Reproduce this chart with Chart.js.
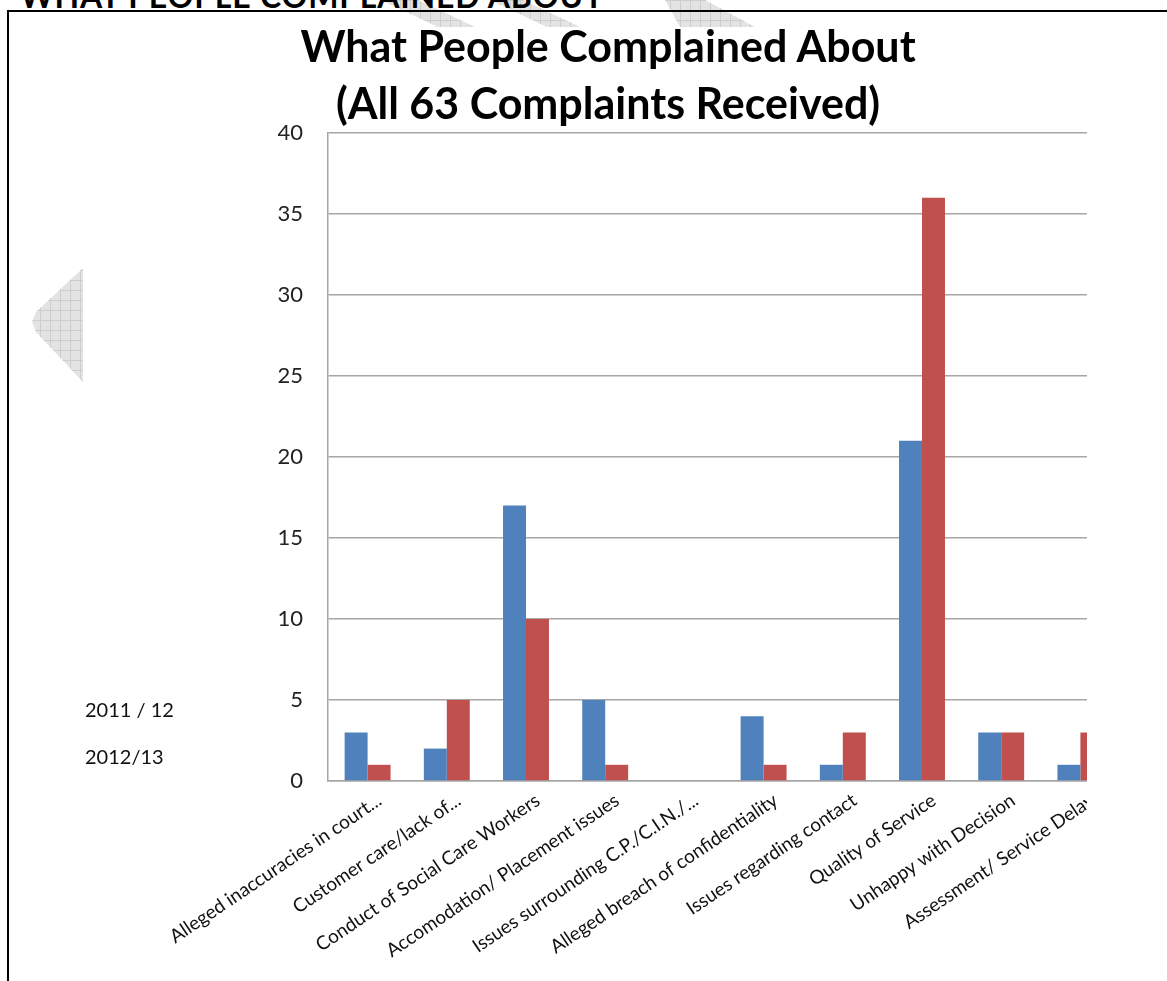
<!DOCTYPE html>
<html>
<head>
<meta charset="utf-8">
<script src="https://cdn.jsdelivr.net/npm/chart.js@4"></script>
<style>
  body { margin: 0; background: #fff; width: 1167px; height: 981px; overflow: hidden; position: relative; font-family: Lato, "Open Sans", sans-serif; }
  .wm { position: absolute; left: 0; top: 0; width: 1167px; height: 400px;
        background-color: #e3e3e3;
        background-image: linear-gradient(#cdcdcd 1px, transparent 1px), linear-gradient(90deg, #cdcdcd 1px, transparent 1px);
        background-size: 10px 10px; }
  #heading { position: absolute; left: 20px; top: -24px; font: bold 32px Lato, sans-serif; color: #000; letter-spacing: 0.8px; white-space: nowrap; }
  #frameTop { position: absolute; left: 7px; top: 10px; width: 1160px; height: 2px; background: #000; }
  #frameLeft { position: absolute; left: 7px; top: 10px; width: 2px; height: 971px; background: #000; }
  #plot { position: absolute; left: 83px; top: 27px; width: 1004px; height: 954px; overflow: hidden; background: #fff; }
  #plot canvas { position: absolute; left: -83px; top: -27px; }
  #title { position: absolute; left: 0; top: 17px; width: 1216px; text-align: center; font: bold 43px Lato, sans-serif; line-height: 57px; color: #000; }
  .legend { position: absolute; left: 85px; font: 20px Lato, sans-serif; color: #111; }
</style>
</head>
<body>
<div class="wm" style="clip-path: polygon(381px 0, 418px 0, 475px 27px, 438px 27px);"></div>
<div class="wm" style="clip-path: polygon(490px 0, 523px 0, 580px 27px, 547px 27px);"></div>
<div class="wm" style="clip-path: polygon(665px 0, 705px 0, 755px 27px, 680px 27px);"></div>
<div class="wm" style="clip-path: polygon(83px 268px, 83px 382px, 36px 332px, 32px 322px, 36px 312px);"></div>
<div id="heading">WHAT PEOPLE COMPLAINED ABOUT</div>
<div id="frameTop"></div>
<div id="frameLeft"></div>
<div id="plot"><canvas id="chart" width="1200" height="981"></canvas></div>
<div id="title">What People Complained About<br>(All 63 Complaints Received)</div>
<div class="legend" style="top: 697px;">2011 / 12</div>
<div class="legend" style="top: 744px;">2012/13</div>

<script>
const categories = [
  "Alleged inaccuracies in court...",
  "Customer care/lack of...",
  "Conduct of Social Care Workers",
  "Accomodation/ Placement issues",
  "Issues surrounding C.P./C.I.N./...",
  "Alleged breach of confidentiality",
  "Issues regarding contact",
  "Quality of Service",
  "Unhappy with Decision",
  "Assessment/ Service Delay"
];
const seriesNames = ["2011 / 12", "2012/13"];
const values2011 = [3, 2, 17, 5, 0, 4, 1, 21, 3, 1];
const values2012 = [1, 5, 10, 1, 0, 1, 3, 36, 3, 3];
const yMin = 0;
const yMax = 40;
const yStep = 5;

const axisGrey = "#a6a6a6";

new Chart(document.getElementById("chart"), {
  type: "bar",
  data: {
    labels: categories,
    datasets: [
      { label: seriesNames[0], data: values2011, backgroundColor: "#4f81bd" },
      { label: seriesNames[1], data: values2012, backgroundColor: "#c0504d" }
    ]
  },
  options: {
    responsive: false,
    animation: false,
    devicePixelRatio: 1,
    layout: { padding: { left: 0, top: 133, right: 80, bottom: 0 } },
    datasets: { bar: { categoryPercentage: 0.58, barPercentage: 1 } },
    plugins: { legend: { display: false }, tooltip: { enabled: false }, title: { display: false } },
    scales: {
      x: {
        grid: { display: false },
        border: { display: true, color: axisGrey, width: 1.5 },
        ticks: {
          autoSkip: false, maxRotation: 34, minRotation: 34, padding: 0, labelOffset: 12,
          color: "#111", font: { family: "Lato", size: 19 }
        },
        afterFit: (s) => { s.height = 200; }
      },
      y: {
        min: yMin, max: yMax,
        grid: { color: axisGrey, lineWidth: 1.5, drawTicks: false },
        border: { display: true, color: axisGrey, width: 1.5 },
        ticks: { stepSize: yStep, padding: 25, color: "#222", font: { family: "Lato", size: 22 } },
        afterFit: (s) => { s.width = 328; }
      }
    }
  }
});
</script>
</body>
</html>
